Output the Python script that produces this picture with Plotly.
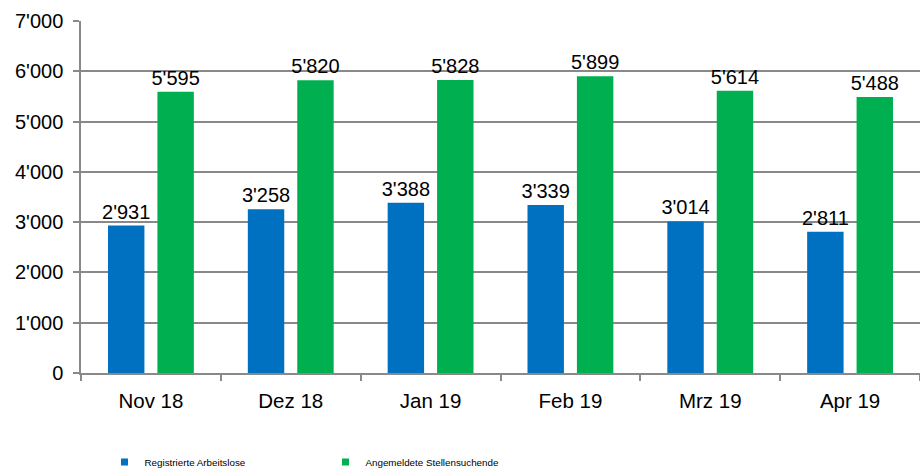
import plotly.graph_objects as go

categories = ["Nov 18", "Dez 18", "Jan 19", "Feb 19", "Mrz 19", "Apr 19"]
arbeitslose = [2931, 3258, 3388, 3339, 3014, 2811]
stellensuchende = [5595, 5820, 5828, 5899, 5614, 5488]
series_names = ["Registrierte Arbeitslose", "Angemeldete Stellensuchende"]
series_colors = ["#0070C0", "#00B050"]
y_ticks = [0, 1000, 2000, 3000, 4000, 5000, 6000, 7000]

def fmt(v):
    return f"{v:,}".replace(",", "'")

fig = go.Figure()
for name, vals, col in zip(series_names, [arbeitslose, stellensuchende], series_colors):
    fig.add_trace(go.Bar(
        x=categories, y=vals, name=name, marker_color=col,
        marker_line_width=0, showlegend=False, legendgroup=name,
        text=[fmt(v) for v in vals], textposition="outside",
        constraintext="none",
        textfont=dict(size=20, color="black", family="Liberation Sans, Arial"),
        cliponaxis=False,
    ))
# legend entries with small square symbols
for name, col in zip(series_names, series_colors):
    fig.add_trace(go.Scatter(
        x=[None], y=[None], mode="markers", name=name, legendgroup=name,
        marker=dict(symbol="square", size=7, color=col),
        showlegend=True,
    ))

fig.update_layout(
    width=920, height=468,
    margin=dict(l=81, r=0, t=21, b=95, autoexpand=False),
    paper_bgcolor="white", plot_bgcolor="white",
    barmode="group", bargap=0.293, bargroupgap=0.263,
    font=dict(family="Liberation Sans, Arial", color="black"),
    showlegend=True,
    legend=dict(orientation="h", x=0.028, y=-0.253, xanchor="left", yanchor="middle",
                font=dict(size=9.8), entrywidth=176, entrywidthmode="pixels",
                itemwidth=30, itemsizing="trace", traceorder="normal"),
)
fig.update_xaxes(
    showline=True, linecolor="#898989", linewidth=1.5,
    ticks="outside", tickson="boundaries", ticklen=6, tickcolor="#898989", tickwidth=1.5,
    tickfont=dict(size=20.5), showgrid=False, ticklabelstandoff=9,
)
fig.update_yaxes(
    range=[0, 7000], tickvals=y_ticks, ticktext=[fmt(v) for v in y_ticks],
    showline=True, linecolor="#898989", linewidth=1.5,
    ticks="outside", ticklen=6, tickcolor="#898989", tickwidth=1.5,
    showgrid=True, gridcolor="#898989", gridwidth=1.5,
    tickfont=dict(size=20), zeroline=False, ticklabelstandoff=6,
)
fig.write_html("out.html", config={"displayModeBar": False},
               post_script="document.body.style.margin='0';document.body.style.overflow='hidden';")
